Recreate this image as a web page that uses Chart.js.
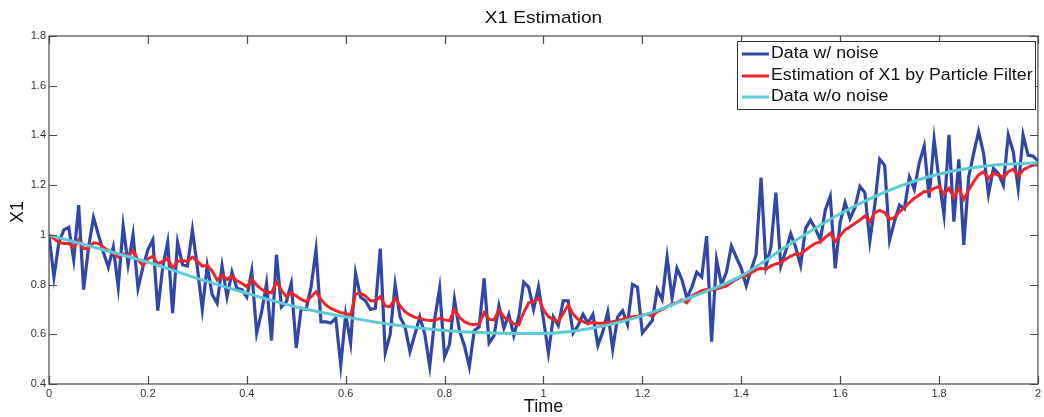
<!DOCTYPE html>
<html>
<head>
<meta charset="utf-8">
<title>X1 Estimation</title>
<script src="https://cdn.jsdelivr.net/npm/chart.js@4/dist/chart.umd.min.js"></script>
<style>
  html, body { margin: 0; padding: 0; background: #fff; }
  #wrap { width: 1044px; height: 417px; }
</style>
</head>
<body>
<div id="wrap"><canvas id="chart" width="1044" height="417"></canvas></div>
<script>
// ---- data ----
const timeStep = 0.01; // noisy data + PF estimate sampled every 0.01 from t=0 to t=2

const noisyValues = [
  1.00, 0.83, 0.97, 1.02, 1.03, 0.90, 1.12, 0.78, 0.95, 1.07,
  1.00, 0.93, 0.87, 0.95, 0.79, 1.035, 0.88, 1.00, 0.785, 0.87,
  0.94, 0.98, 0.695, 0.87, 0.97, 0.685, 0.97, 0.88, 0.875, 1.02,
  0.87, 0.70, 0.875, 0.76, 0.725, 0.875, 0.75, 0.85, 0.785, 0.78,
  0.75, 0.855, 0.605, 0.69, 0.805, 0.575, 0.92, 0.71, 0.73, 0.805,
  0.545, 0.705, 0.70, 0.79, 0.94, 0.65, 0.65, 0.645, 0.665, 0.475,
  0.68, 0.565, 0.845, 0.75, 0.735, 0.70, 0.705, 0.945, 0.525, 0.60,
  0.80, 0.67, 0.63, 0.53, 0.60, 0.67, 0.60, 0.47, 0.66, 0.785,
  0.51, 0.56, 0.74, 0.615, 0.555, 0.47, 0.615, 0.63, 0.825, 0.565,
  0.595, 0.715, 0.625, 0.68, 0.595, 0.67, 0.81, 0.79, 0.70, 0.79,
  0.66, 0.525, 0.67, 0.635, 0.735, 0.735, 0.605, 0.635, 0.68, 0.645,
  0.68, 0.555, 0.61, 0.69, 0.54, 0.67, 0.695, 0.64, 0.80, 0.79,
  0.605, 0.63, 0.655, 0.78, 0.74, 0.91, 0.745, 0.865, 0.82, 0.745,
  0.79, 0.85, 0.83, 0.995, 0.57, 0.90, 0.80, 0.85, 0.955, 0.91,
  0.865, 0.795, 0.86, 0.92, 1.23, 0.875, 0.95, 1.17, 0.875, 0.935,
  1.005, 0.95, 0.877, 1.025, 1.06, 1.024, 0.98, 1.10, 1.155, 0.865,
  1.05, 1.13, 1.065, 1.11, 1.195, 1.17, 0.975, 1.12, 1.304, 1.28,
  0.978, 1.055, 1.12, 1.105, 1.232, 1.183, 1.29, 1.357, 1.15, 1.384,
  1.22, 1.08, 1.402, 1.053, 1.304, 0.96, 1.234, 1.328, 1.415, 1.328,
  1.164, 1.267, 1.247, 1.20, 1.402, 1.335, 1.187, 1.402, 1.321, 1.317,
  1.298
];

const estimateValues = [
  1.00, 0.985, 0.97, 0.965, 0.965, 0.95, 0.98, 0.944, 0.946, 0.968,
  0.965, 0.95, 0.937, 0.925, 0.91, 0.924, 0.914, 0.937, 0.90, 0.877,
  0.903, 0.914, 0.883, 0.893, 0.906, 0.866, 0.893, 0.897, 0.893, 0.91,
  0.893, 0.874, 0.877, 0.855, 0.818, 0.838, 0.821, 0.834, 0.815, 0.805,
  0.791, 0.821, 0.798, 0.781, 0.771, 0.767, 0.811, 0.778, 0.751, 0.767,
  0.754, 0.74, 0.731, 0.751, 0.771, 0.74, 0.718, 0.704, 0.695, 0.687,
  0.684, 0.677, 0.762, 0.765, 0.754, 0.735, 0.735, 0.751, 0.714, 0.711,
  0.745, 0.714, 0.691, 0.678, 0.668, 0.664, 0.658, 0.655, 0.655, 0.664,
  0.658, 0.655, 0.70, 0.668, 0.651, 0.642, 0.638, 0.642, 0.687, 0.66,
  0.658, 0.698, 0.668, 0.658, 0.642, 0.638, 0.687, 0.727, 0.731, 0.745,
  0.698, 0.671, 0.66, 0.651, 0.684, 0.718, 0.681, 0.66, 0.651, 0.644,
  0.647, 0.644, 0.644, 0.647, 0.651, 0.655, 0.66, 0.668, 0.671, 0.673,
  0.677, 0.681, 0.673, 0.691, 0.70, 0.711, 0.722, 0.727, 0.738, 0.727,
  0.754, 0.765, 0.775, 0.78, 0.778, 0.782, 0.789, 0.794, 0.808, 0.821,
  0.832, 0.835, 0.848, 0.859, 0.866, 0.862, 0.875, 0.883, 0.888, 0.902,
  0.915, 0.923, 0.923, 0.939, 0.953, 0.966, 0.973, 0.99, 1.006, 0.973,
  0.996, 1.02, 1.033, 1.047, 1.06, 1.076, 1.053, 1.089, 1.098, 1.089,
  1.062, 1.07, 1.093, 1.11, 1.13, 1.147, 1.16, 1.174, 1.174, 1.187,
  1.194, 1.164, 1.187, 1.151, 1.187, 1.143, 1.18, 1.214, 1.241, 1.254,
  1.227, 1.247, 1.241, 1.231, 1.254, 1.264, 1.237, 1.261, 1.272, 1.281,
  1.281
];

// clean signal, read every 0.1
const cleanTimes  = [0, 0.1, 0.2, 0.3, 0.4, 0.5, 0.6, 0.7, 0.8, 0.9, 1.0,
                     1.1, 1.2, 1.3, 1.4, 1.5, 1.6, 1.7, 1.8, 1.9, 2.0];
const cleanValues = [1.00, 0.945, 0.89, 0.825, 0.765, 0.71, 0.67, 0.637, 0.615, 0.605, 0.603,
                     0.625, 0.675, 0.75, 0.835, 0.965, 1.085, 1.18, 1.245, 1.278, 1.29];

const xTicks = [0, 0.2, 0.4, 0.6, 0.8, 1, 1.2, 1.4, 1.6, 1.8, 2];
const xTickLabels = ['0', '0.2', '0.4', '0.6', '0.8', '1', '1.2', '1.4', '1.6', '1.8', '2'];
const yTicks = [0.4, 0.6, 0.8, 1, 1.2, 1.4, 1.6, 1.8];
const yTickLabels = ['0.4', '0.6', '0.8', '1', '1.2', '1.4', '1.6', '1.8'];

const seriesNames = ['Data w/ noise', 'Estimation of X1 by Particle Filter', 'Data w/o noise'];
const seriesColors = ['#3047a8', '#ee2528', '#5ccbd6'];

const FONT = 'Arial, "Liberation Sans", Helvetica, sans-serif';

// ---- helpers ----
const sampled = (vals) => vals.map((v, i) => ({ x: +(i * timeStep).toFixed(2), y: v }));
const paired  = (xs, ys) => xs.map((x, i) => ({ x, y: ys[i] }));

// stretched text (the reference figure is a bit wider than tall)
function wideText(ctx, str, x, y, align, sx) {
  ctx.save();
  ctx.translate(x, y);
  ctx.scale(sx, 1);
  ctx.textAlign = align;
  ctx.fillText(str, 0, 0);
  ctx.restore();
}

// ---- MATLAB-like frame, inward ticks, title, labels, legend ----
const matlabFrame = {
  id: 'matlabFrame',
  afterDraw(chart) {
    const { ctx, chartArea: a, scales } = chart;
    const tick = 8;

    ctx.save();
    ctx.strokeStyle = '#4a4a4a';
    ctx.lineWidth = 1.2;
    ctx.strokeRect(a.left, a.top, a.right - a.left, a.bottom - a.top);

    ctx.beginPath();
    for (const v of xTicks) {
      const px = Math.round(scales.x.getPixelForValue(v)) + 0.5;
      ctx.moveTo(px, a.bottom); ctx.lineTo(px, a.bottom - tick);
      ctx.moveTo(px, a.top);    ctx.lineTo(px, a.top + tick);
    }
    for (const v of yTicks) {
      const py = Math.round(scales.y.getPixelForValue(v)) + 0.5;
      ctx.moveTo(a.left, py);  ctx.lineTo(a.left + tick, py);
      ctx.moveTo(a.right, py); ctx.lineTo(a.right - tick, py);
    }
    ctx.stroke();

    // title + axis titles
    ctx.fillStyle = '#111';
    ctx.textBaseline = 'middle';
    ctx.font = '17px ' + FONT;
    wideText(ctx, 'X1 Estimation', (a.left + a.right) / 2, 18, 'center', 1.12);

    ctx.font = '18px ' + FONT;
    ctx.textAlign = 'center';
    ctx.fillText('Time', (a.left + a.right) / 2, 407);
    ctx.save();
    ctx.translate(18, 212);
    ctx.rotate(-Math.PI / 2);
    ctx.fillText('X1', 0, 0);
    ctx.restore();

    // legend box
    const box = { l: 737, t: 41, r: 1035, b: 109 };
    ctx.fillStyle = '#fff';
    ctx.fillRect(box.l, box.t, box.r - box.l, box.b - box.t);
    ctx.strokeStyle = '#333';
    ctx.lineWidth = 1;
    ctx.strokeRect(box.l + 0.5, box.t + 0.5, box.r - box.l, box.b - box.t);

    const rows = [54, 76, 97];
    ctx.font = '16px ' + FONT;
    seriesNames.forEach((name, i) => {
      ctx.strokeStyle = seriesColors[i];
      ctx.lineWidth = 3;
      ctx.beginPath();
      ctx.moveTo(742, rows[i]);
      ctx.lineTo(769, rows[i]);
      ctx.stroke();
      ctx.fillStyle = '#111';
      wideText(ctx, name, 771, rows[i], 'left', 1.11);
    });
    ctx.restore();
  }
};

// ---- chart ----
const ctx = document.getElementById('chart').getContext('2d');
new Chart(ctx, {
  type: 'line',
  data: {
    datasets: [
      {
        label: seriesNames[0],
        data: sampled(noisyValues),
        borderColor: seriesColors[0],
        borderWidth: 3.2,
        pointRadius: 0,
        tension: 0,
        order: 3
      },
      {
        label: seriesNames[1],
        data: sampled(estimateValues),
        borderColor: seriesColors[1],
        borderWidth: 3,
        pointRadius: 0,
        tension: 0,
        order: 2
      },
      {
        label: seriesNames[2],
        data: paired(cleanTimes, cleanValues),
        borderColor: seriesColors[2],
        borderWidth: 3,
        pointRadius: 0,
        cubicInterpolationMode: 'monotone',
        order: 1
      }
    ]
  },
  options: {
    responsive: false,
    animation: false,
    layout: { padding: { top: 36, right: 4, left: 0, bottom: 0 } },
    plugins: {
      legend: { display: false },
      title: { display: false },
      tooltip: { enabled: false }
    },
    scales: {
      x: {
        type: 'linear',
        min: 0,
        max: 2,
        afterBuildTicks: (s) => { s.ticks = xTicks.map(v => ({ value: v })); },
        afterFit: (s) => { s.height = 33; },
        grid: { display: false, drawTicks: false },
        border: { display: false },
        ticks: {
          autoSkip: false,
          maxRotation: 0,
          padding: 3,
          color: '#333',
          font: { family: FONT, size: 11 },
          callback: (v) => xTickLabels[xTicks.findIndex(t => Math.abs(t - v) < 1e-6)] ?? ''
        }
      },
      y: {
        min: 0.4,
        max: 1.8,
        afterBuildTicks: (s) => { s.ticks = yTicks.map(v => ({ value: v })); },
        afterFit: (s) => { s.width = 49; },
        grid: { display: false, drawTicks: false },
        border: { display: false },
        ticks: {
          autoSkip: false,
          padding: 3,
          color: '#333',
          font: { family: FONT, size: 11 },
          callback: (v) => yTickLabels[yTicks.findIndex(t => Math.abs(t - v) < 1e-6)] ?? ''
        }
      }
    }
  },
  plugins: [matlabFrame]
});
</script>
</body>
</html>
